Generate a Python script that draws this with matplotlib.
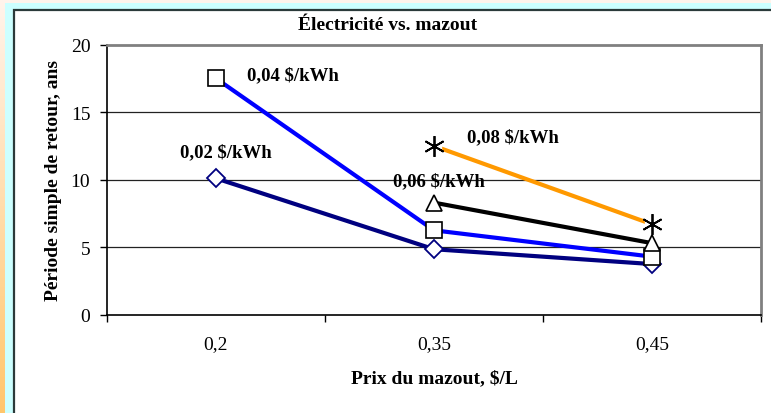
import numpy as np
import matplotlib

matplotlib.use("Agg")
import matplotlib.pyplot as plt
from matplotlib.colors import to_rgb
from matplotlib.patches import Rectangle

prices = ["0,2", "0,35", "0,45"]
rate_02 = [10.1, 4.85, 3.75]
rate_04 = [17.5, 6.25, 4.3]
rate_06 = [np.nan, 8.3, 5.3]
rate_08 = [np.nan, 12.5, 6.7]
series_labels = ["0,02 $/kWh", "0,04 $/kWh", "0,06 $/kWh", "0,08 $/kWh"]

W, H = 771, 414
fig = plt.figure(figsize=(W / 100, H / 100), dpi=100)

# background: peach-to-orange gradient, cyan frame, white chart area
bg = fig.add_axes([0, 0, 1, 1])
bg.set_axis_off()
top_c, bot_c = np.array(to_rgb("#FFF4EC")), np.array(to_rgb("#FFC66C"))
t = np.linspace(0, 1, H)[:, None, None]
grad = np.repeat(top_c * (1 - t) + bot_c * t, 2, axis=1)
bg.imshow(grad, aspect="auto", extent=[0, W, 0, H])
bg.set_xlim(0, W)
bg.set_ylim(0, H)
bg.add_patch(Rectangle((5, 0), W, H - 4, facecolor="#CCFFFF", edgecolor="none"))
bg.add_patch(Rectangle((14, -5), W, H - 11 + 5, facecolor="white",
                       edgecolor="#2B3A3A", linewidth=1.6))

serif = "Liberation Serif"
ax = fig.add_axes([107 / W, (H - 315.7) / H, 654 / W, 270 / H])
ax.set_facecolor("none")
x = np.arange(len(prices))

ax.set_xlim(-0.5, 2.5)
ax.set_ylim(0, 20)
ax.set_yticks([0, 5, 10, 15, 20])
for yv in [5, 10, 15]:
    ax.axhline(yv, color="#222222", lw=0.9, zorder=1)

ax.plot(x, rate_02, color="#000080", lw=3, zorder=3)
ax.plot(x, rate_04, color="#0000FF", lw=3, zorder=3)
ax.plot(x, rate_06, color="black", lw=3, zorder=3)
ax.plot(x, rate_08, color="#FF9900", lw=3, zorder=3)

ax.plot(x, rate_02, ls="none", marker="D", ms=9.5, mfc="white", mec="#000080", mew=1.3, zorder=4)
ax.plot(x, rate_04, ls="none", marker="s", ms=11, mfc="white", mec="black", mew=1.2, zorder=4)
ax.plot(x, rate_06, ls="none", marker="^", ms=12, mfc="white", mec="black", mew=1.2, zorder=4)
ax.plot(x, rate_08, ls="none", marker="s", ms=10, mfc="white", mec="white", zorder=4)
ax.plot(x, rate_08, ls="none", marker=(6, 2, 0), ms=15, mec="black", mew=1.3, zorder=5)

lab_kw = dict(fontsize=13.5, fontweight="bold", family=serif, va="center", ha="left", zorder=6)
ax.text(-0.165, 12.1, series_labels[0], **lab_kw)
ax.text(0.14, 17.8, series_labels[1], **lab_kw)
ax.text(0.81, 9.95, series_labels[2], **lab_kw)
ax.text(1.15, 13.15, series_labels[3], **lab_kw)

ax.set_xticks([-0.5, 0.5, 1.5, 2.5])
ax.set_xticklabels([])
ax.set_xticks(x, minor=True)
ax.set_xticklabels(prices, minor=True, family=serif, fontsize=14)
ax.tick_params(axis="x", which="major", length=5, width=1, direction="out")
ax.tick_params(axis="x", which="minor", length=0, pad=15)
ax.tick_params(axis="y", length=5, width=1, direction="out", pad=7, labelsize=14)
for lbl in ax.get_yticklabels():
    lbl.set_family(serif)

for side in ["top", "right"]:
    ax.spines[side].set_color("#808080")
    ax.spines[side].set_linewidth(2)
for side in ["left", "bottom"]:
    ax.spines[side].set_color("black")
    ax.spines[side].set_linewidth(1.2)

ax.set_xlabel("Prix du mazout, $/L", family=serif, fontweight="bold", fontsize=14, labelpad=12)
ax.set_ylabel("Période simple de retour, ans", family=serif, fontweight="bold", fontsize=14, labelpad=6)
fig.text(388 / W, 1 - 26 / H, "Électricité vs. mazout", family=serif, fontweight="bold",
         fontsize=14, ha="center", va="center")

fig.savefig("out.png", dpi=100)
